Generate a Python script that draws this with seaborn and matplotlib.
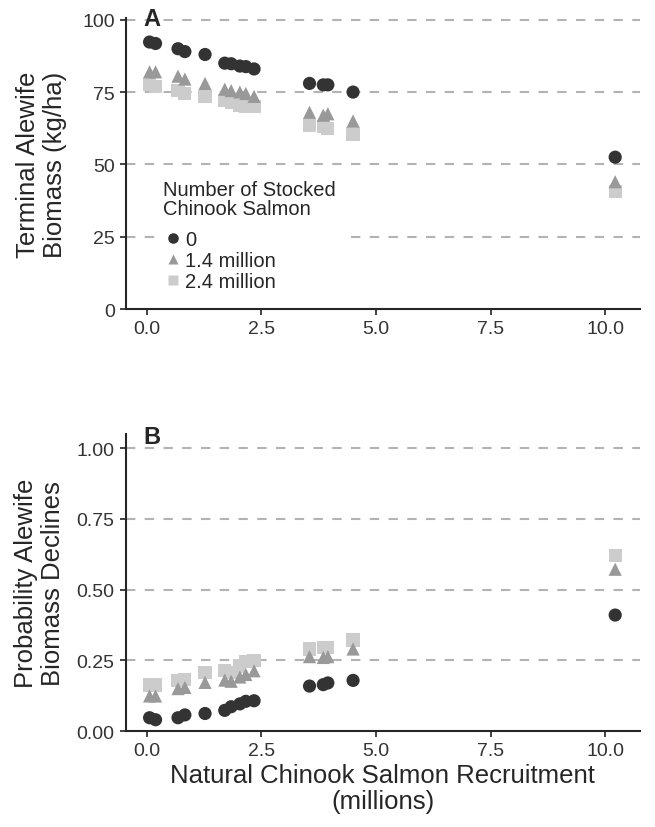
import numpy as np
import pandas as pd
import seaborn as sns
import matplotlib.pyplot as plt

# natural recruitment (millions), same 15 scenarios in both panels
recruit = [0.06, 0.19, 0.68, 0.83, 1.27, 1.7, 1.84, 2.03, 2.16, 2.34,
           3.55, 3.85, 3.95, 4.5, 10.22]

# panel A: terminal alewife biomass (kg/ha)
bio_0 = [92.3, 91.8, 90.0, 89.0, 88.0, 85.0, 84.8, 84.0, 83.8, 83.0,
         78.0, 77.5, 77.5, 75.0, 52.5]
bio_14 = [82.0, 82.0, 80.5, 79.5, 78.0, 76.0, 75.5, 75.0, 74.5, 73.5,
          68.0, 67.0, 67.5, 65.0, 44.0]
bio_24 = [77.5, 77.0, 75.5, 74.5, 73.5, 72.0, 71.5, 70.5, 70.0, 70.0,
          63.5, 63.0, 62.5, 60.5, 40.5]

# panel B: probability alewife biomass declines
prob_0 = [0.047, 0.040, 0.047, 0.057, 0.062, 0.073, 0.086, 0.096, 0.105, 0.107,
          0.159, 0.164, 0.170, 0.179, 0.41]
prob_14 = [0.124, 0.124, 0.150, 0.154, 0.172, 0.180, 0.176, 0.191, 0.200, 0.213,
           0.263, 0.260, 0.263, 0.290, 0.572]
prob_24 = [0.163, 0.163, 0.180, 0.182, 0.207, 0.213, 0.208, 0.230, 0.245, 0.250,
           0.290, 0.294, 0.296, 0.322, 0.62]

groups = ["0", "1.4 million", "2.4 million"]
colors = {"0": "#333333", "1.4 million": "#999999", "2.4 million": "#cccccc"}
markers = {"0": "o", "1.4 million": "^", "2.4 million": "s"}


def long_df(vals_0, vals_14, vals_24):
    # squares first so circles end up on top
    rows = []
    for g, vals in [("2.4 million", vals_24), ("1.4 million", vals_14), ("0", vals_0)]:
        for x, y in zip(recruit, vals):
            rows.append({"x": x, "y": y, "g": g})
    return pd.DataFrame(rows)


sns.set_style("ticks")
plt.rcParams['font.family'] = ['Liberation Sans', 'DejaVu Sans']

fig = plt.figure(figsize=(6.55, 8.28), dpi=100)
axA = fig.add_axes([0.192, 0.6256, 0.785, 0.3514])
axB = fig.add_axes([0.192, 0.1159, 0.785, 0.3587])


def style_axis(ax, ylim, yticks, yfmt):
    ax.set_xlim(-0.46, 10.76)
    ax.set_ylim(*ylim)
    ax.set_xticks([0, 2.5, 5.0, 7.5, 10.0])
    ax.set_xticklabels(["0.0", "2.5", "5.0", "7.5", "10.0"])
    ax.set_yticks(yticks)
    ax.set_yticklabels([yfmt.format(t) for t in yticks])
    for t in yticks[1:]:
        ax.axhline(t, color="#b3b3b3", lw=1.5, ls=(0, (4.5, 4.5)), zorder=0)
    sns.despine(ax=ax)
    ax.spines["left"].set_linewidth(1.5)
    ax.spines["bottom"].set_linewidth(1.5)
    ax.tick_params(labelsize=14, length=4, width=1.2, pad=4, colors="#222222",
                   labelcolor="#333333")


dfA = long_df(bio_0, bio_14, bio_24)
sns.scatterplot(data=dfA, x="x", y="y", hue="g", style="g", hue_order=groups,
                style_order=groups, palette=colors, markers=markers, s=90,
                edgecolor="none", ax=axA, zorder=3)
style_axis(axA, (0, 100.6), [0, 25, 50, 75, 100], "{:g}")
axA.set_xlabel("")
axA.set_ylabel("Terminal Alewife\nBiomass (kg/ha)", fontsize=18.5, linespacing=1.15)
axA.yaxis.set_label_coords(-0.115, 0.5)
handles, labels = axA.get_legend_handles_labels()
leg = axA.legend(handles, labels, title="Number of Stocked\nChinook Salmon",
                 loc="upper left", bbox_to_anchor=(0.06, 0.465), frameon=True,
                 fontsize=14.5, title_fontsize=14.5, handletextpad=0.1,
                 labelspacing=0.1, borderpad=0.3, handlelength=1.0,
                 markerscale=0.8, borderaxespad=0)
leg.get_frame().set_edgecolor("white")
leg.get_frame().set_facecolor("white")
leg.get_frame().set_alpha(1)
leg.get_title().set_linespacing(1.0)
leg._legend_box.align = "left"
leg._legend_box.sep = 9  # gap between title and keys

dfB = long_df(prob_0, prob_14, prob_24)
sns.scatterplot(data=dfB, x="x", y="y", hue="g", style="g", hue_order=groups,
                style_order=groups, palette=colors, markers=markers, s=90,
                edgecolor="none", ax=axB, zorder=3, legend=False)
style_axis(axB, (0, 1.05), [0, 0.25, 0.5, 0.75, 1.0], "{:.2f}")
axB.set_xlabel("Natural Chinook Salmon Recruitment\n(millions)", fontsize=18.5,
               linespacing=1.1, labelpad=3)
axB.set_ylabel("Probability Alewife\nBiomass Declines", fontsize=18.5, linespacing=1.15)
axB.yaxis.set_label_coords(-0.118, 0.5)

fig.text(143 / 655, 1 - 8 / 828, "A", fontsize=17, fontweight="bold", va="top")
fig.text(143 / 655, 1 - 426 / 828, "B", fontsize=17, fontweight="bold", va="top")

fig.savefig("out.png", dpi=100)
